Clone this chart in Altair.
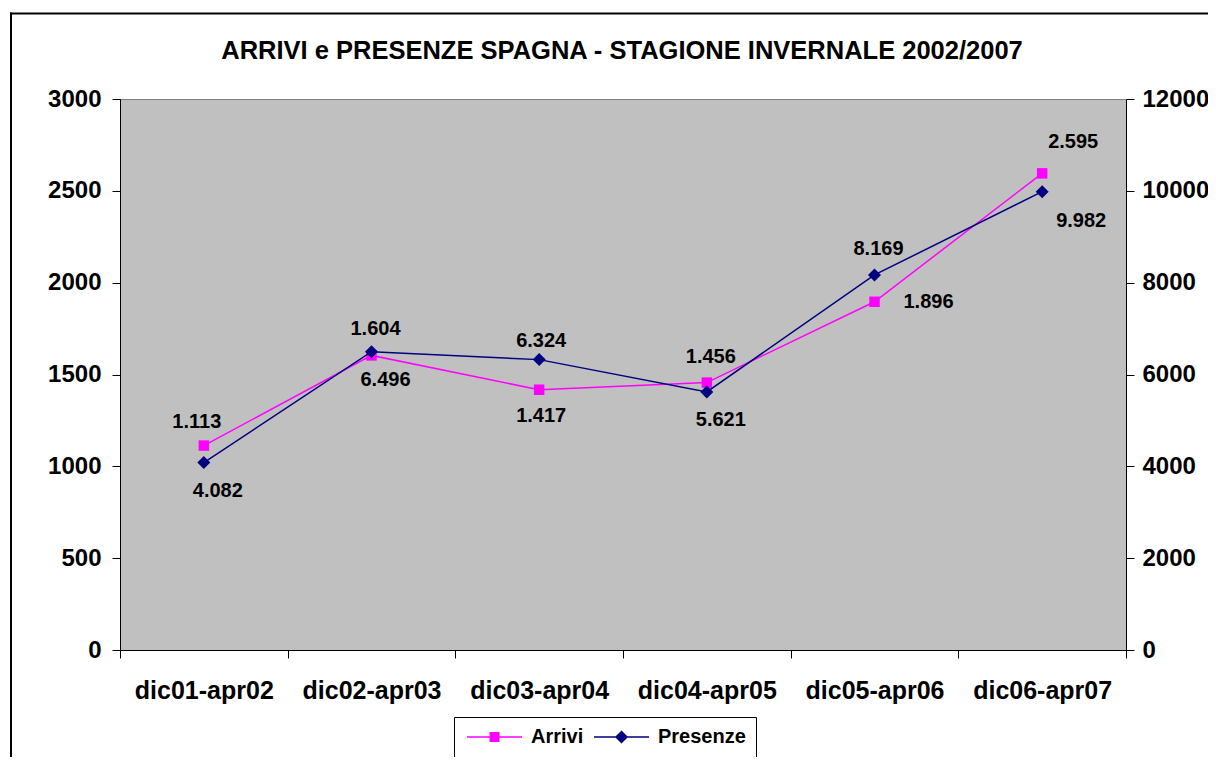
import altair as alt
import pandas as pd

TITLE = "ARRIVI e PRESENZE SPAGNA - STAGIONE INVERNALE 2002/2007"
periods = ["dic01-apr02", "dic02-apr03", "dic03-apr04", "dic04-apr05", "dic05-apr06", "dic06-apr07"]
arrivi = [1113, 1604, 1417, 1456, 1896, 2595]
presenze = [4082, 6496, 6324, 5621, 8169, 9982]
series_names = ["Arrivi", "Presenze"]
left_ticks = [0, 500, 1000, 1500, 2000, 2500, 3000]
right_ticks = [0, 2000, 4000, 6000, 8000, 10000, 12000]
# placement keyword of each data label (as set in the original chart)
arrivi_label_pos = ["above-left", "above", "below", "above", "right", "above-right"]
presenze_label_pos = ["below-right", "below-right", "above-low", "below-right", "above", "below-far-right"]

MAG = "#FF00FF"
NAVY = "#000080"
FONT = "Liberation Sans"

OFFSETS = {
    "above-left": (-7, -24),
    "above": (4, -26),
    "above-low": (2, -19),
    "below": (2, 26),
    "right": (54, 0),
    "above-right": (31, -31),
    "below-right": (14, 28),
    "below-far-right": (39, 29),
}

df = pd.DataFrame({
    "period": periods,
    "arrivi": arrivi,
    "presenze": presenze,
    "apos": arrivi_label_pos,
    "ppos": presenze_label_pos,
})

base = alt.Chart(df).transform_calculate(
    alab="replace(format(datum.arrivi, ','), ',', '.')",
    plab="replace(format(datum.presenze, ','), ',', '.')",
)

x_enc = alt.X(
    "period:N", sort=periods, bandPosition=0.5,
    scale=alt.Scale(type="band", paddingInner=0, paddingOuter=0),
    axis=alt.Axis(title=None, labelAngle=0, tickBand="extent", tickSize=8, labelPadding=20,
                  labelFont=FONT, labelFontSize=25, labelFontWeight="bold", labelColor="black",
                  domainColor="black", tickColor="black", grid=False),
)

y_left = alt.Y(
    "arrivi:Q", scale=alt.Scale(domain=[0, 3000], nice=False),
    axis=alt.Axis(values=left_ticks, format="d", title=None, grid=False, tickSize=8, labelPadding=11,
                  labelFont=FONT, labelFontSize=24, labelFontWeight="bold", labelColor="black",
                  domainColor="black", tickColor="black", orient="left"),
)
y_right = alt.Y(
    "presenze:Q", scale=alt.Scale(domain=[0, 12000], nice=False),
    axis=alt.Axis(values=right_ticks, format="d", title=None, grid=False, tickSize=8, labelPadding=8,
                  labelFont=FONT, labelFontSize=24, labelFontWeight="bold", labelColor="black",
                  domainColor="black", tickColor="black", orient="right"),
)

a_line = base.mark_line(color=MAG, strokeWidth=1.5).encode(x=x_enc, y=y_left)
a_pts = base.mark_point(shape="square", filled=True, size=110, color=MAG, opacity=1).encode(x=x_enc, y=y_left)
a_labels = []
for pos in dict.fromkeys(arrivi_label_pos):
    dx, dy = OFFSETS[pos]
    a_labels.append(
        base.transform_filter(alt.datum.apos == pos)
        .mark_text(dx=dx, dy=dy, font=FONT, fontSize=20, fontWeight="bold", color="black", baseline="middle")
        .encode(x=x_enc, y=y_left, text="alab:N")
    )

p_line = base.mark_line(color=NAVY, strokeWidth=1.5).encode(x=x_enc, y=y_right)
p_pts = base.mark_point(shape="diamond", filled=True, size=169, color=NAVY, opacity=1).encode(x=x_enc, y=y_right)
p_labels = []
for pos in dict.fromkeys(presenze_label_pos):
    dx, dy = OFFSETS[pos]
    p_labels.append(
        base.transform_filter(alt.datum.ppos == pos)
        .mark_text(dx=dx, dy=dy, font=FONT, fontSize=20, fontWeight="bold", color="black", baseline="middle")
        .encode(x=x_enc, y=y_right, text="plab:N")
    )

# title
title_df = pd.DataFrame({"t": [TITLE]})
title = alt.Chart(title_df).mark_text(
    font=FONT, fontSize=25.5, fontWeight="bold", color="black", align="center", baseline="alphabetic"
).encode(text="t:N", x=alt.value(502), y=alt.value(-40))

# outer chart border (left and top edges visible in the crop)
one = pd.DataFrame({"k": [0]})
border_top = alt.Chart(one).mark_rule(color="black", strokeWidth=2).encode(
    x=alt.value(-110), x2=alt.value(1100), y=alt.value(-85.5))
border_left = alt.Chart(one).mark_rule(color="black", strokeWidth=2).encode(
    x=alt.value(-109), y=alt.value(-86.5), y2=alt.value(700))

# legend (line + marker symbols)
sq = "M-1,-0.107H6.857V0.107H-1Z M2.216,-0.714H3.644V0.714H2.216Z"
di = "M-1,-0.107H6.857V0.107H-1Z M2.93,-0.93L3.86,0L2.93,0.93L2,0Z"
leg_df = pd.DataFrame({"series": series_names})
leg_props = dict(
    orient="none", legendX=334, legendY=618, direction="horizontal", title=None,
    labelFont=FONT, labelFontSize=20, labelFontWeight="bold", labelColor="black",
    strokeColor="black", padding=10, symbolSize=196, symbolOpacity=1, symbolStrokeWidth=0,
    labelOffset=47, columnPadding=7, fillColor="white",
)
legend_layer = alt.Chart(leg_df).mark_point(filled=True, opacity=0, size=196).encode(
    x=alt.value(0), y=alt.value(0),
    fill=alt.Fill("series:N", scale=alt.Scale(domain=series_names, range=[MAG, NAVY]),
                  legend=alt.Legend(**leg_props)),
    shape=alt.Shape("series:N", scale=alt.Scale(domain=series_names, range=[sq, di]),
                    legend=alt.Legend(**leg_props)),
)

layer_a = alt.layer(a_line, a_pts, *a_labels, title, border_top, border_left, legend_layer)
layer_p = alt.layer(p_line, p_pts, *p_labels)

chart = alt.layer(layer_a, layer_p).resolve_scale(y="independent").properties(
    width=1006, height=551,
    autosize=alt.AutoSizeParams(type="none"),
    padding={"left": 112, "top": 91, "right": 82, "bottom": 107},
    background="white",
).configure_view(fill="#C0C0C0", stroke="#808080", strokeWidth=1)

chart.save("out.html", embed_options={"renderer": "svg", "actions": False})
